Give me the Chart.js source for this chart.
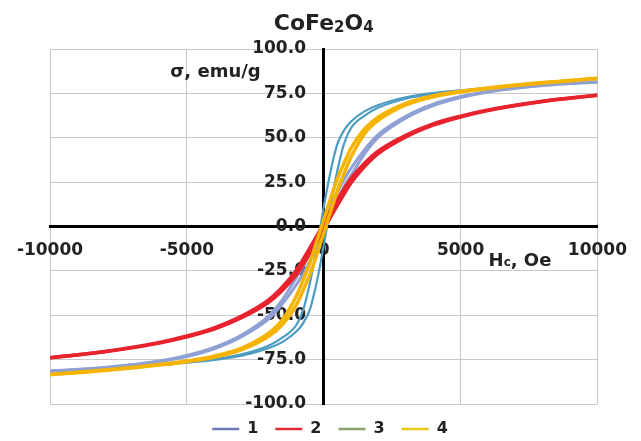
<!DOCTYPE html>
<html>
<head>
<meta charset="utf-8">
<title>CoFe2O4</title>
<script src="https://cdn.jsdelivr.net/npm/chart.js@4"></script>
<style>
  html, body { margin: 0; padding: 0; background: #fff; }
  #wrap { width: 641px; height: 441px; }
</style>
</head>
<body>
<div id="wrap"><canvas id="loopChart"></canvas></div>
<script>
// ===== Daten =====
// Feldstärke H (Oe), gemeinsame Stützstellen für alle Äste
const FIELD = [-10000, -8000, -6000, -5000, -4000, -3000, -2000, -1500, -1000, -750, -500, -250,
  0, 250, 500, 750, 1000, 1500, 2000, 3000, 4000, 5000, 6000, 8000, 10000];

// Magnetisierung sigma (emu/g): oberer Ast (von +H kommend) und unterer Ast (von -H kommend)
const LOOP1_UPPER = [-81.4, -79.4, -75.8, -72.6, -68.1, -61.1, -50.3, -41.1, -28.8, -22.5, -14.3, -5.8,
  2.7, 11.2, 19.4, 26.6, 32.8, 43.4, 51.9, 62.1, 68.9, 73.2, 76.1, 79.6, 81.5];
const LOOP1_LOWER = [-81.5, -79.6, -76.1, -73.2, -68.9, -62.1, -51.9, -43.4, -32.8, -26.6, -19.4, -11.2,
  -2.7, 5.8, 14.3, 22.5, 28.8, 41.1, 50.3, 61.1, 68.1, 72.6, 75.8, 79.4, 81.4];

const LOOP2_UPPER = [-73.9, -70.4, -65.3, -61.7, -57.1, -50.5, -41.2, -33.9, -24.6, -18.4, -11.9, -5.3,
  1.7, 8.6, 15.1, 21.4, 27.1, 35.8, 42.6, 51.4, 57.8, 62.2, 65.7, 70.6, 74.0];
const LOOP2_LOWER = [-74.0, -70.6, -65.7, -62.2, -57.8, -51.4, -42.6, -35.8, -27.1, -21.4, -15.1, -8.6,
  -1.7, 5.3, 11.9, 18.4, 24.6, 33.9, 41.2, 50.5, 57.1, 61.7, 65.3, 70.4, 73.9];

const LOOP3_UPPER = [-81.4, -79.9, -77.8, -76.3, -74.7, -72.0, -67.0, -62.5, -55.5, -47.0, -31.6, -11.7,
  10.8, 31.0, 46.5, 54.4, 59.2, 65.0, 68.5, 72.8, 75.2, 76.7, 78.1, 80.1, 81.5];
const LOOP3_LOWER = [-81.5, -80.1, -78.1, -76.7, -75.2, -72.8, -68.5, -65.0, -59.2, -54.4, -46.5, -31.0,
  -10.8, 11.7, 31.6, 47.0, 55.5, 62.5, 67.0, 72.0, 74.7, 76.3, 77.8, 79.9, 81.4];

const LOOP4_UPPER = [-83.4, -80.9, -77.8, -75.8, -73.1, -68.5, -59.9, -52.4, -39.1, -30.1, -20.2, -8.2,
  3.8, 15.8, 26.9, 35.9, 44.2, 55.1, 61.7, 69.4, 73.7, 76.2, 78.1, 81.1, 83.5];
const LOOP4_LOWER = [-83.5, -81.1, -78.1, -76.2, -73.7, -69.4, -61.7, -55.1, -44.2, -35.9, -26.9, -15.8,
  -3.8, 8.2, 20.2, 30.1, 39.1, 52.4, 59.9, 68.5, 73.1, 75.8, 77.8, 80.9, 83.4];

const SERIES_LABELS = ['1', '2', '3', '4'];
const X_TICKS = [-10000, -5000, 0, 5000, 10000];
const Y_TICKS = [-100, -75, -50, -25, 0, 25, 50, 75, 100];

// ===== Farben / Stil =====
const LINE_COLORS = ['#8fa0d4', '#e8232e', '#4c9bc0', '#f4b400'];
const LEGEND_COLORS = ['#6c7ab8', '#e02a36', '#8ba070', '#e8c81a'];
const LINE_WIDTHS = [3, 3.5, 2.2, 3.5];
const DRAW_ORDER = [2, 1, 3, 0]; // gelb oben

const FONT = "'DejaVu Sans', 'Liberation Sans', sans-serif";
const TEXT = '#222';

function toPoints(values) {
  return values.map((v, i) => ({ x: FIELD[i], y: v }));
}

const branches = [
  [LOOP1_UPPER, LOOP1_LOWER],
  [LOOP2_UPPER, LOOP2_LOWER],
  [LOOP3_UPPER, LOOP3_LOWER],
  [LOOP4_UPPER, LOOP4_LOWER]
];

const datasets = [];
branches.forEach(([up, low], s) => {
  [up, low].forEach((vals, b) => {
    datasets.push({
      label: SERIES_LABELS[s],
      data: toPoints(vals),
      borderColor: LINE_COLORS[s],
      backgroundColor: LINE_COLORS[s],
      borderWidth: LINE_WIDTHS[s],
      pointRadius: 0,
      fill: false,
      cubicInterpolationMode: 'monotone',
      order: DRAW_ORDER[s],
      branch: b
    });
  });
});

// Titel mit Indizes + Achsenbeschriftungen neben den Achsen
const chartTexts = {
  id: 'chartTexts',
  afterDraw(chart) {
    const { ctx, scales: { x, y } } = chart;
    ctx.save();
    ctx.fillStyle = TEXT;
    ctx.textBaseline = 'middle';

    // CoFe2O4
    const parts = [['CoFe', 22, 0], ['2', 15, 4], ['O', 22, 0], ['4', 15, 4]];
    let w = 0;
    parts.forEach(([t, size]) => { ctx.font = `bold ${size}px ${FONT}`; w += ctx.measureText(t).width; });
    let tx = x.getPixelForValue(0) - w / 2;
    ctx.textAlign = 'left';
    parts.forEach(([t, size, dy]) => {
      ctx.font = `bold ${size}px ${FONT}`;
      ctx.fillText(t, tx, 24 + dy);
      tx += ctx.measureText(t).width;
    });

    // sigma, emu/g
    ctx.font = `bold 18px ${FONT}`;
    ctx.textAlign = 'right';
    ctx.fillText('σ, emu/g', x.getPixelForValue(0) - 63, y.getPixelForValue(87));

    // Hc, Oe (c tiefgestellt)
    let px = x.getPixelForValue(5000) + 28;
    const py = y.getPixelForValue(-19.5);
    ctx.textAlign = 'left';
    ctx.font = `bold 18px ${FONT}`;
    ctx.fillText('H', px, py);
    px += ctx.measureText('H').width;
    ctx.font = `bold 12px ${FONT}`;
    ctx.fillText('c', px, py + 2);
    px += ctx.measureText('c').width;
    ctx.font = `bold 18px ${FONT}`;
    ctx.fillText(', Oe', px, py);
    ctx.restore();
  }
};

new Chart(document.getElementById('loopChart'), {
  type: 'line',
  data: { datasets },
  options: {
    responsive: true,
    maintainAspectRatio: false,
    animation: false,
    layout: { padding: { left: 50, right: 31, top: 49, bottom: -6 } },
    plugins: {
      title: { display: false },
      legend: {
        position: 'bottom',
        labels: {
          color: TEXT,
          font: { family: FONT, size: 16, weight: 'bold' },
          usePointStyle: true,
          pointStyle: 'line',
          pointStyleWidth: 27,
          padding: 17,
          filter: (item, data) => data.datasets[item.datasetIndex].branch === 0,
          sort: (a, b) => a.datasetIndex - b.datasetIndex,
          generateLabels(chart) {
            const items = Chart.defaults.plugins.legend.labels.generateLabels(chart);
            items.forEach(it => {
              const s = Math.floor(it.datasetIndex / 2);
              it.strokeStyle = LEGEND_COLORS[s];
              it.fillStyle = LEGEND_COLORS[s];
              it.lineWidth = 2.5;
              it.pointStyle = 'line';
            });
            return items;
          }
        }
      },
      tooltip: { enabled: false }
    },
    scales: {
      x: {
        type: 'linear',
        position: { y: 0 },
        min: -10000,
        max: 10000,
        afterBuildTicks: axis => { axis.ticks = X_TICKS.map(v => ({ value: v })); },
        ticks: {
          color: TEXT,
          font: { family: FONT, size: 17, weight: 'bold' },
          padding: 14,
          maxRotation: 0,
          autoSkip: false,
          callback: v => String(v)
        },
        grid: { color: '#c8c8c8', lineWidth: 1, drawTicks: false },
        border: { color: '#000', width: 3 }
      },
      y: {
        type: 'linear',
        position: { x: 0 },
        min: -100,
        max: 100,
        afterBuildTicks: axis => { axis.ticks = Y_TICKS.map(v => ({ value: v })); },
        ticks: {
          color: TEXT,
          font: { family: FONT, size: 17, weight: 'bold' },
          autoSkip: false,
          // Abstand zur Achse über angehängte Leerzeichen
          callback: v => v.toFixed(1) + '   '
        },
        grid: { color: '#c8c8c8', lineWidth: 1, drawTicks: false },
        border: { color: '#000', width: 3 }
      }
    }
  },
  plugins: [chartTexts]
});
</script>
</body>
</html>
